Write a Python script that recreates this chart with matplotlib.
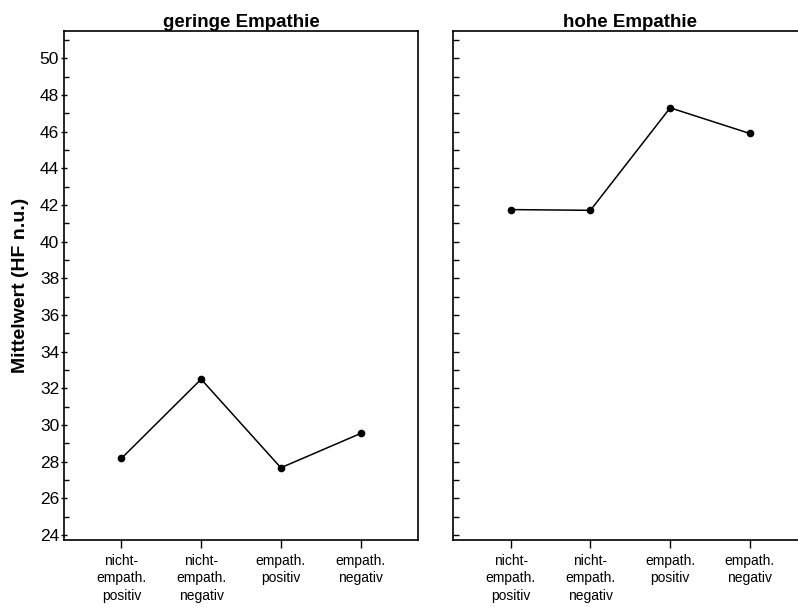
import matplotlib
matplotlib.use("Agg")
import matplotlib.pyplot as plt
from matplotlib.ticker import MultipleLocator

plt.rcParams['font.family'] = ['Liberation Sans', 'DejaVu Sans']

categories = ["nicht-\nempath.\npositiv", "nicht-\nempath.\nnegativ", "empath.\npositiv", "empath.\nnegativ"]
panel_titles = ["geringe Empathie", "hohe Empathie"]
low_empathy = [28.18, 32.5, 27.67, 29.54]
high_empathy = [41.75, 41.71, 47.3, 45.9]
y_label = "Mittelwert (HF n.u.)"

fig = plt.figure(figsize=(7.98, 6.07), dpi=100)
W, H = 798, 607
ax_w = 354 / W
ax_h = 509 / H
bottom = (H - 540) / H
ax1 = fig.add_axes([64 / W, bottom, ax_w, ax_h])
ax2 = fig.add_axes([453.3 / W, bottom, ax_w, ax_h])

x = list(range(1, len(categories) + 1))
for i, (ax, vals, title) in enumerate(zip([ax1, ax2], [low_empathy, high_empathy], panel_titles)):
    ax.plot(x, vals, color="black", lw=1.1, marker="o", ms=4.5, zorder=3)
    ax.set_xlim(0.28, 4.72)
    ax.set_ylim(23.73, 51.49)
    ax.set_xticks(x)
    ax.set_xticklabels(categories, fontsize=10, linespacing=1.32)
    ax.yaxis.set_major_locator(MultipleLocator(2))
    ax.yaxis.set_minor_locator(MultipleLocator(1))
    ax.tick_params(axis='x', direction='out', length=6, width=1, pad=4)
    ax.set_title(title, fontsize=13.5, fontweight='bold', pad=3)
    for s in ax.spines.values():
        s.set_linewidth(1.2)
    if i == 0:
        ax.tick_params(axis='y', which='major', direction='inout', length=5, width=1, labelsize=12.5, pad=1)
        ax.tick_params(axis='y', which='minor', direction='in', length=3.5, width=1)
    else:
        ax.tick_params(axis='y', which='major', direction='in', length=4, width=1, labelleft=False)
        ax.tick_params(axis='y', which='minor', direction='in', length=4, width=1)

fig.text(21 / W, 1 - 285.5 / H, y_label, rotation=90, fontsize=14, fontweight='bold',
         ha='center', va='center')

fig.savefig("out.png", dpi=100)
